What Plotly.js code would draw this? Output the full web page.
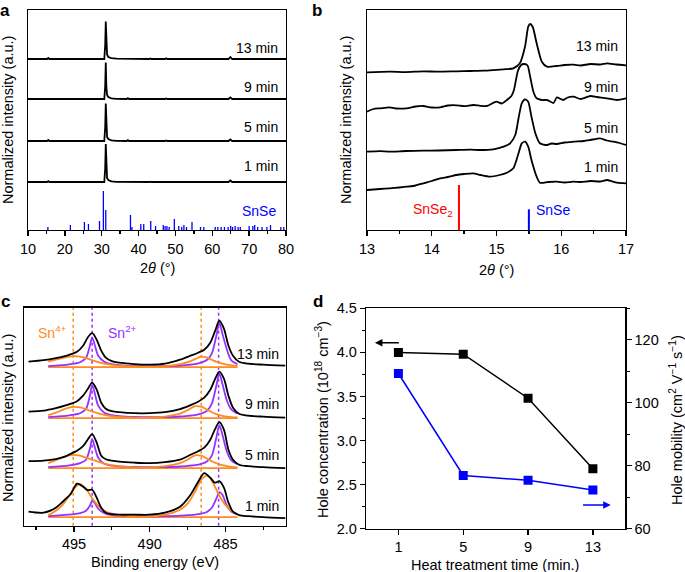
<!DOCTYPE html>
<html>
<head>
<meta charset="utf-8">
<script src="https://cdn.plot.ly/plotly-3.0.1.min.js"></script>
<style>body{margin:0;background:#fff} #plot{width:685px;height:572px}</style>
</head>
<body>
<div id="plot"></div>
<script>
// ---- panel a: XRD, full range ----
var timeLabels = ['1 min', '5 min', '9 min', '13 min'];
var xrdX = [10, 15.2, 15.5, 15.8, 30.7, 30.95, 31.1, 31.25, 31.45, 31.8, 32.6, 34, 36.8, 37.1, 37.4, 42.9, 43.2, 43.5, 47.2, 47.5, 47.8, 64.4, 64.9, 65.4, 80];
var xrd1 = [0, 0, 0.8, 0, 0, 14, 38, 14, 4, 2, 0.7, 0.2, 0, 0.6, 0, 0, 0.3, 0, 0, 0.3, 0, 0, 1.5, 0, 0];
var xrd5 = [0, 0, 1, 0, 0, 14, 37.5, 14, 4, 2, 0.7, 0.2, 0, 0.8, 0, 0, 0.4, 0, 0, 0.6, 0, 0, 1.5, 0, 0];
var xrd9 = [0, 0, 0.5, 0, 0, 13, 36.5, 13, 4, 2, 0.7, 0.2, 0, 0.8, 0, 0, 0.3, 0, 0, 0.5, 0, 0, 1.6, 0, 0];
var xrd13 = [0, 0, 1, 0, 0, 14, 37.5, 14, 4.5, 2, 0.8, 0.3, 0, 0.7, 0, 0, 0.6, 0, 0, 0.7, 0, 0, 2, 0, 0];
var snsePos = [15.4, 21.5, 25.3, 26.4, 29.4, 30.45, 31.1, 37.8, 38.2, 40.6, 41.4, 43.3, 44.6, 46.7, 47.2, 47.7, 48.3, 49.7, 50.9, 51.7, 52.3, 53.0, 54.5, 56.8, 57.7, 60.8, 61.5, 62.4, 63.3, 64.3, 65.0, 65.5, 66.2, 67.0, 67.6, 70.0, 71.0, 71.5, 72.3, 73.5, 74.8, 75.8, 78.6, 79.4];
var snseInt = [3, 5, 8, 6, 9, 39, 20, 15, 3, 6, 6, 9, 4, 5, 4, 4, 3, 11, 4, 3, 5, 3, 8, 3, 3, 3, 3, 3, 3, 3, 4, 3, 4, 3, 3, 4, 4, 5, 3, 3, 3, 5, 3, 3];

// ---- panel b: XRD, 13-17 deg ----
var b1x = [13.0,13.2,13.35,13.5,13.61,13.75,13.87,14.0,14.13,14.25,14.38,14.5,14.64,14.75,14.9,15.05,15.16,15.26,15.34,15.39,15.44,15.49,15.54,15.62,15.67,15.8,15.93,16.05,16.19,16.3,16.45,16.6,16.71,16.86,17.0];
var b1y = [40,41,41.7,42.5,43.3,44.5,46.7,49,51.7,53,55,56,56.7,55,53.3,55,57.3,61.7,76.7,86.7,88.3,83.3,70,53.3,47.3,48,48.3,47.5,48.3,48,49,48.5,50,47.3,46.7];
var b5x = [13.0,13.2,13.35,13.6,13.87,14.1,14.38,14.6,14.74,14.95,15.11,15.21,15.29,15.34,15.39,15.44,15.49,15.54,15.6,15.67,15.78,15.85,15.93,16.05,16.19,16.35,16.45,16.6,16.7,16.81,16.9,17.0];
var b5y = [78.3,78.8,78.3,79,79.3,79.5,80,80.3,80,80.7,83.3,86.7,95,111.7,126.7,130.7,128.3,113.3,96.7,86.7,85,86.5,86,87.5,88.3,89,90,91.7,89.5,88.3,87,85];
var b9x = [13.0,13.1,13.2,13.35,13.45,13.61,13.75,13.87,14.0,14.13,14.25,14.38,14.5,14.64,14.75,14.85,15.0,15.08,15.16,15.23,15.27,15.33,15.38,15.43,15.48,15.52,15.57,15.62,15.7,15.78,15.88,15.93,16.03,16.1,16.19,16.3,16.45,16.55,16.71,16.86,17.0];
var b9y = [118.3,121,121.7,122.7,121.5,121.7,123.5,124,122.5,122.7,124.5,124.7,123.8,125,124.2,124,128.3,126.5,130,134,140,159,165,166,164.5,153.3,138.3,131.7,130,130,127,132.5,130,132.5,133.3,131,134,133,131.7,130,131.7];
var b13x = [13.0,13.35,13.6,13.87,14.1,14.38,14.6,14.8,15.0,15.11,15.26,15.36,15.44,15.49,15.52,15.56,15.62,15.70,15.78,15.93,16.05,16.19,16.3,16.45,16.6,16.71,16.85,17.0];
var b13y = [157.7,158.3,157.9,158.7,158.3,158.7,159.0,159.3,160.2,160.7,161.7,166.7,183.3,203.3,206,203,186.7,168.3,163.3,164,165,165.3,164.5,166,165.5,166.7,165.5,164.7];
var refSnSe2 = [14.42], refSnSe2Int = [45];
var refSnSe = [15.5], refSnSeInt = [20.7];

// ---- panel c: XPS Sn 3d ----
var cX = [498.0,497.0,496.2,495.6,495.2,494.8,494.4,494.1,493.8,493.5,493.2,492.9,492.5,492.0,491.0,490.0,489.0,488.0,487.3,486.8,486.4,486.0,485.7,485.4,485.1,484.8,484.5,484.1,483.5,482.5,481.05];
var c13 = [164,165.5,167.5,169.5,171.5,174,180,188,192.5,186,175,168,164.5,163,161.5,161,162,166,170,173,176,183,194,205,197,180,170,164,162,161,160];
var c9 = [114,115,117.5,120,122,124.5,130,136.5,143,136,123,117,114.5,113.5,112.5,112.5,113.5,116.5,120.5,124,128,136,146,154,147,130,118,112,110,109,108];
var c5 = [64.5,65,66.5,69,72,75,79.5,86,91.5,83,70,66.5,65,64,63,62.5,63.5,66,71,74.5,78,86,96,103.5,96,76,66,61,59.5,58.5,57.5];
var c1 = [14,13,18,26,32,42,39,35.5,36,28,18,13,11.5,11,11,11,13,19,31,44,52.5,48,43,44.5,38,23,14,10.5,9.5,8.5,7.5];
var fitX = [496.7,496.2,495.8,495.4,495.0,494.6,494.2,493.95,493.8,493.65,493.4,493.0,492.5,492.0,491.0,490.0,489.0,488.0,487.5,487.0,486.6,486.2,485.9,485.6,485.4,485.2,484.9,484.6,484.2];
var sn4_13 = [164,166,167.5,168.8,169.5,169,167.5,166.3,165.5,164.8,163.5,162,160.8,160,159.2,159,159.5,161.5,163.5,166.5,169,168,166,164,163,162,161,160.3,159.8];
var sn2_13 = [159.5,160,160.5,161,162,163.5,168,180,188,182,170,164,161.5,160.5,159.7,159.5,159.7,160.2,160.8,161.5,163,166,172,190,203,192,176,165,161.5];
var sn4_9 = [110.5,113,115.5,117.8,118.8,118.3,116.5,115,114.3,113.5,112.3,110.8,109.5,108.7,108,108,109,112,115.5,119.5,119,116,113.5,111.5,110.5,109.8,109,108.5,108.2];
var sn2_9 = [108.5,109,109.5,110,111,112.5,117,130,140.5,134,120,113,110.5,109.5,108.7,108.5,108.7,109.2,109.8,110.5,112,115,122,140,152,142,125,116,112];
var sn4_5 = [62.5,65.5,68,70,70.8,70,68,66.8,66,65.3,64,62,60.5,59.5,58.3,58.2,59.5,62.5,66,70.3,70,67,64.5,62.5,61.3,60.5,59.5,58.8,58.3];
var sn2_5 = [58.5,59,59.5,60,61,62.5,66,77,86.5,80,68,62,60,59.3,58.7,58.5,58.7,59.2,59.8,60.5,61.8,64.5,70,88,100.5,91,74,65,61.5];
var sn4_1 = [10.5,15,20,28,37,41.5,37,31,27.5,24.5,20,15,12,10.5,9.2,9,11,16,22,34,46,50,45,36,30,25,19,14.5,11.5];
var sn2_1 = [9.5,10,10.5,11,11.5,12.5,15,20,24.5,23,17,12.5,10.5,10,9.5,9.3,9.5,10,10.5,11,12,14,18,27,33.5,31,20,14,11.5];
var fitBase = [8.5, 57.6, 107.6, 158.5];
var sn4Lines = [495.05, 486.6];
var sn2Lines = [493.8, 485.45];

// ---- panel d: Hall data ----
var heatTime = [1, 5, 9, 13];
var holeConc = [4.00, 3.98, 3.48, 2.68];
var holeMob = [109.3, 76.9, 75.4, 72.3];

var FONT = 'Liberation Sans, Arial, sans-serif';
var ORANGE = '#ff8a1e', PURPLE = '#9632ff', BLUE = '#0000ff', RED = '#ff0000';

var data = [];

// a
var offA = [48, 89, 131, 171];
[xrd1, xrd5, xrd9, xrd13].forEach(function (s, i) {
  data.push({x: xrdX, y: s.map(function (v) { return v + offA[i]; }), xaxis: 'x', yaxis: 'y',
    mode: 'lines', type: 'scatter', line: {color: 'black', width: 1.8}, name: timeLabels[i]});
});
data.push({x: snsePos, y: snseInt, type: 'bar', width: 0.35, xaxis: 'x', yaxis: 'y',
  marker: {color: BLUE, line: {width: 0}}, name: 'SnSe'});

// b
function sticks(pos, h) {
  var xs = [], ys = [];
  pos.forEach(function (p, i) { xs.push(p, p, null); ys.push(0, h[i], null); });
  return {x: xs, y: ys};
}
[[b1x, b1y], [b5x, b5y], [b9x, b9y], [b13x, b13y]].forEach(function (s, i) {
  data.push({x: s[0], y: s[1], xaxis: 'x2', yaxis: 'y2', mode: 'lines', type: 'scatter',
    line: {color: 'black', width: 1.8, shape: 'spline', smoothing: 0.6}, name: timeLabels[i]});
});
var r1 = sticks(refSnSe2, refSnSe2Int), r2 = sticks(refSnSe, refSnSeInt);
data.push({x: r1.x, y: r1.y, xaxis: 'x2', yaxis: 'y2', mode: 'lines', line: {color: RED, width: 2}, name: 'SnSe2'});
data.push({x: r2.x, y: r2.y, xaxis: 'x2', yaxis: 'y2', mode: 'lines', line: {color: BLUE, width: 2}, name: 'SnSe'});

// c
var sets = [[c1, sn4_1, sn2_1], [c5, sn4_5, sn2_5], [c9, sn4_9, sn2_9], [c13, sn4_13, sn2_13]];
sets.forEach(function (s, i) {
  data.push({x: [fitX[0], fitX[fitX.length - 1]], y: [fitBase[i], fitBase[i]], xaxis: 'x3', yaxis: 'y3',
    mode: 'lines', line: {color: ORANGE, width: 1.8}});
  data.push({x: fitX, y: s[2], xaxis: 'x3', yaxis: 'y3', mode: 'lines',
    line: {color: PURPLE, width: 1.8, shape: 'spline', smoothing: 0.8}});
  data.push({x: fitX, y: s[1], xaxis: 'x3', yaxis: 'y3', mode: 'lines',
    line: {color: ORANGE, width: 1.8, shape: 'spline', smoothing: 0.8}});
  data.push({x: cX, y: s[0], xaxis: 'x3', yaxis: 'y3', mode: 'lines',
    line: {color: 'black', width: 1.8, shape: 'spline', smoothing: 0.8}, name: timeLabels[i]});
});

// d
data.push({x: heatTime, y: holeConc, xaxis: 'x4', yaxis: 'y4', mode: 'lines+markers', type: 'scatter',
  line: {color: 'black', width: 1.5}, marker: {symbol: 'square', size: 9, color: 'black'}, name: 'Hole concentration'});
data.push({x: heatTime, y: holeMob, xaxis: 'x4', yaxis: 'y5', mode: 'lines+markers', type: 'scatter',
  line: {color: BLUE, width: 1.5}, marker: {symbol: 'square', size: 9, color: BLUE}, name: 'Hole mobility'});

function ax(extra) {
  var o = {showline: true, linecolor: 'black', linewidth: 1.3, mirror: true, showgrid: false, zeroline: false,
    ticks: 'outside', tickcolor: 'black', ticklen: 5, tickwidth: 1.3,
    tickfont: {family: FONT, size: 14.5, color: 'black'}};
  for (var k in extra) o[k] = extra[k];
  return o;
}
var noTicks = {ticks: '', showticklabels: false};
function yPlain(domain, range) { var o = ax(noTicks); o.domain = domain; o.range = range; return o; }

var W = 685, H = 572;
function px(x) { return x / W; }
function py(y) { return (H - y) / H; }

var layout = {
  width: W, height: H, margin: {l: 0, r: 0, t: 0, b: 0},
  paper_bgcolor: 'white', plot_bgcolor: 'white', showlegend: false,
  font: {family: FONT, size: 14, color: 'black'},
  xaxis: ax({domain: [px(28), px(286)], range: [10, 80], dtick: 10, anchor: 'y',
    minor: {dtick: 5, ticks: 'outside', ticklen: 3, tickcolor: 'black', tickwidth: 1.3}}),
  yaxis: yPlain([py(230), py(10)], [0, 220]),
  xaxis2: ax({domain: [px(367), px(626)], range: [13, 17], dtick: 1, anchor: 'y2',
    minor: {dtick: 0.5, ticks: 'outside', ticklen: 3, tickcolor: 'black', tickwidth: 1.3}}),
  yaxis2: (function () { var o = yPlain([py(230), py(10)], [0, 220]); o.anchor = 'x2'; return o; })(),
  xaxis3: ax({domain: [px(24), px(286)], range: [498.3, 481.0], dtick: 5, anchor: 'y3',
    minor: {dtick: 2.5, ticks: 'outside', ticklen: 3, tickcolor: 'black', tickwidth: 1.3}}),
  yaxis3: (function () { var o = yPlain([py(525.7), py(307.7)], [0, 218]); o.anchor = 'x3'; return o; })(),
  xaxis4: ax({domain: [px(366), px(625.3)], range: [-1, 15], tickvals: heatTime, anchor: 'y4'}),
  yaxis4: ax({domain: [py(528.7), py(308.3)], range: [2.0, 4.5], dtick: 0.5, tickformat: '.1f', anchor: 'x4', mirror: false,
    minor: {dtick: 0.25, ticks: 'outside', ticklen: 3, tickcolor: 'black', tickwidth: 1.3}}),
  yaxis5: ax({range: [60, 130], tick0: 60, dtick: 20, overlaying: 'y4', side: 'right', anchor: 'x4', mirror: false,
    minor: {dtick: 10, ticks: 'outside', ticklen: 3, tickcolor: 'black', tickwidth: 1.3}}),
  shapes: [],
  annotations: []
};

sn4Lines.forEach(function (e) {
  layout.shapes.push({type: 'line', xref: 'x3', yref: 'y3 domain', x0: e, x1: e, y0: 0, y1: 1,
    line: {color: ORANGE, width: 1.5, dash: 'dot'}, layer: 'below'});
});
sn2Lines.forEach(function (e) {
  layout.shapes.push({type: 'line', xref: 'x3', yref: 'y3 domain', x0: e, x1: e, y0: 0, y1: 1,
    line: {color: PURPLE, width: 1.5, dash: 'dot'}, layer: 'below'});
});

function note(o) {
  var a = {showarrow: false, font: {family: FONT, size: 14, color: 'black'}, xanchor: 'center', yanchor: 'middle'};
  for (var k in o) a[k] = o[k];
  layout.annotations.push(a);
}
// panel letters
[['a', 5, 10], ['b', 317, 10], ['c', 5, 302], ['d', 318, 302]].forEach(function (l) {
  note({text: '<b>' + l[0] + '</b>', xref: 'paper', yref: 'paper', x: px(l[1]), y: py(l[2]), font: {family: FONT, size: 17, color: 'black'}});
});
// axis titles
var yt = 'Normalized intensity (a.u.)';
note({text: yt, textangle: -90, xref: 'paper', yref: 'paper', x: px(8), y: py(120), font: {family: FONT, size: 14.5, color: 'black'}});
note({text: yt, textangle: -90, xref: 'paper', yref: 'paper', x: px(346), y: py(120), font: {family: FONT, size: 14.5, color: 'black'}});
note({text: yt, textangle: -90, xref: 'paper', yref: 'paper', x: px(8), y: py(418), font: {family: FONT, size: 14.5, color: 'black'}});
note({text: 'Hole concentration (10<sup>18</sup> cm<sup>\u22123</sup>)', textangle: -90, xref: 'paper', yref: 'paper', x: px(322), y: py(420), font: {family: FONT, size: 14.5, color: 'black'}});
note({text: 'Hole mobility (cm<sup>2</sup> V<sup>\u22121</sup> s<sup>\u22121</sup>)', textangle: -90, xref: 'paper', yref: 'paper', x: px(676), y: py(420), font: {family: FONT, size: 14.5, color: 'black'}});
note({text: '2<i>\u03b8</i> (\u00b0)', xref: 'paper', yref: 'paper', x: px(157), y: py(268), font: {family: FONT, size: 14.5, color: 'black'}});
note({text: '2<i>\u03b8</i> (\u00b0)', xref: 'paper', yref: 'paper', x: px(496), y: py(270), font: {family: FONT, size: 14.5, color: 'black'}});
note({text: 'Binding energy (eV)', xref: 'paper', yref: 'paper', x: px(155), y: py(562), font: {family: FONT, size: 14.5, color: 'black'}});
note({text: 'Heat treatment time (min.)', xref: 'paper', yref: 'paper', x: px(495), y: py(565), font: {family: FONT, size: 14.5, color: 'black'}});

// curve labels
var labA = [64, 103, 143, 182], labB = [63, 102, 143, 184], labC = [19.7, 70.7, 121.7, 171.7];
timeLabels.forEach(function (t, i) {
  note({text: t, xref: 'x', yref: 'y', x: 78.4, y: labA[i], xanchor: 'right'});
  note({text: t, xref: 'x2', yref: 'y2', x: 16.91, y: labB[i], xanchor: 'right'});
  note({text: t, xref: 'x3', yref: 'y3', x: 481.3, y: labC[i], xanchor: 'right'});
});
note({text: 'SnSe', xref: 'x', yref: 'y', x: 72.6, y: 19.3, font: {family: FONT, size: 14, color: BLUE}});
note({text: 'SnSe<sub>2</sub>', xref: 'x2', yref: 'y2', x: 14.02, y: 20, font: {family: FONT, size: 14, color: RED}});
note({text: 'SnSe', xref: 'x2', yref: 'y2', x: 15.88, y: 20, font: {family: FONT, size: 14, color: BLUE}});
note({text: 'Sn<sup>4+</sup>', xref: 'x3', yref: 'y3', x: 496.4, y: 194, font: {family: FONT, size: 14, color: ORANGE}});
note({text: 'Sn<sup>2+</sup>', xref: 'x3', yref: 'y3', x: 491.8, y: 194, font: {family: FONT, size: 14, color: PURPLE}});

// arrows in d
layout.annotations.push({xref: 'x4', yref: 'y4', axref: 'x4', ayref: 'y4', x: -0.45, y: 4.11, ax: 1.12, ay: 4.11,
  text: '', showarrow: true, arrowhead: 2, arrowsize: 1, arrowwidth: 1.5, arrowcolor: 'black'});
layout.annotations.push({xref: 'x4', yref: 'y4', axref: 'x4', ayref: 'y4', x: 14.1, y: 2.27, ax: 12.3, ay: 2.27,
  text: '', showarrow: true, arrowhead: 2, arrowsize: 1, arrowwidth: 1.5, arrowcolor: BLUE});

Plotly.newPlot('plot', data, layout, {displayModeBar: false, staticPlot: true});
</script>
</body>
</html>
